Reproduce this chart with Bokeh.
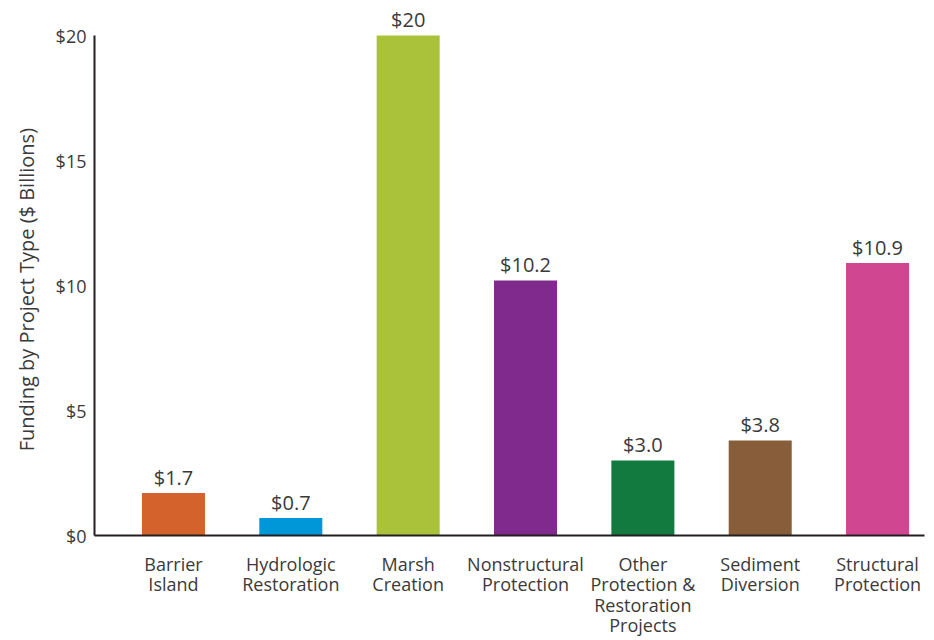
from bokeh.plotting import figure
from bokeh.models import ColumnDataSource, Range1d, FixedTicker
from bokeh.core.properties import value
from bokeh.embed import file_html
from bokeh.resources import INLINE

categories = ["Barrier\nIsland", "Hydrologic\nRestoration", "Marsh\nCreation",
              "Nonstructural\nProtection", "Other\nProtection &\nRestoration\nProjects",
              "Sediment\nDiversion", "Structural\nProtection"]
funding = [1.7, 0.7, 20, 10.2, 3.0, 3.8, 10.9]
value_labels = ["$1.7", "$0.7", "$20", "$10.2", "$3.0", "$3.8", "$10.9"]
colors = ["#D4622C", "#0097D8", "#AAC23A", "#7F2A8C", "#127A3E", "#875D3A", "#D14690"]
y_ticks = [0, 5, 10, 15, 20]
y_tick_labels = ["$0", "$5", "$10", "$15", "$20"]

FONT = "Open Sans"
TXT = "#3a3a3a"

xs = list(range(len(categories)))
src = ColumnDataSource(dict(x=xs, top=funding, color=colors, label=value_labels))

p = figure(width=930, height=640, output_backend="svg", toolbar_location=None,
           x_range=Range1d(-0.673, 6.40), y_range=Range1d(0, 21.0),
           min_border_left=94, min_border_right=6, min_border_top=10, min_border_bottom=103)
p.outline_line_color = None
p.xgrid.grid_line_color = None
p.ygrid.grid_line_color = None

p.vbar(x="x", top="top", width=0.537, bottom=0, color="color", line_color=None, source=src)
p.text(x="x", y="top", text="label", source=src, text_align="center",
       text_baseline="alphabetic", y_offset=-16, text_font=value(FONT),
       text_font_size="20px", text_color=TXT)

# x axis
p.xaxis.ticker = FixedTicker(ticks=xs)
p.xaxis.major_label_overrides = {i: c for i, c in enumerate(categories)}
p.xaxis.major_tick_line_color = None
p.xaxis.major_tick_out = 0
p.xaxis.minor_tick_line_color = None
p.xaxis.major_label_standoff = 16
p.xaxis.axis_line_width = 2
p.xaxis.axis_line_color = "#231f20"
p.xaxis.major_label_text_font = FONT
p.xaxis.major_label_text_font_size = "18px"
p.xaxis.major_label_text_line_height = 0.86
p.xaxis.major_label_text_color = TXT

# y axis
p.yaxis.ticker = FixedTicker(ticks=y_ticks)
p.yaxis.major_label_overrides = {t: l for t, l in zip(y_ticks, y_tick_labels)}
p.yaxis.bounds = (0, 20)
p.yaxis.major_tick_line_color = None
p.yaxis.major_tick_out = 0
p.yaxis.minor_tick_line_color = None
p.yaxis.major_label_standoff = 8
p.yaxis.axis_line_width = 2
p.yaxis.axis_line_color = "#231f20"
p.yaxis.major_label_text_font = FONT
p.yaxis.major_label_text_font_size = "18px"
p.yaxis.major_label_text_color = TXT
p.yaxis.axis_label = "Funding by Project Type ($ Billions)" + "\u2003\u2002\u2009"
p.yaxis.axis_label_text_font = FONT
p.yaxis.axis_label_text_font_size = "20px"
p.yaxis.axis_label_text_font_style = "normal"
p.yaxis.axis_label_text_color = TXT
p.yaxis.axis_label_standoff = 13

open("out.html", "w").write(file_html(p, INLINE))
